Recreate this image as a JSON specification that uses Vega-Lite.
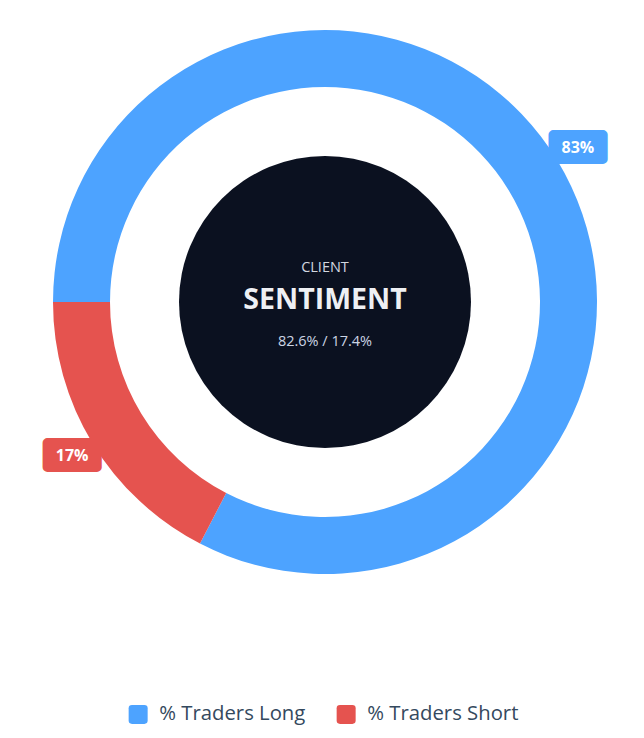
{
  "$schema": "https://vega.github.io/schema/vega-lite/v6.json",
  "width": 638,
  "height": 604,
  "autosize": "none",
  "padding": {"left": 6, "right": 0, "top": 0, "bottom": 134},
  "background": "white",
  "config": {
    "view": {"stroke": null},
    "text": {"font": "Open Sans"}
  },
  "layer": [
    {
      "data": {"values": [{"part": "center"}]},
      "mark": {"type": "arc", "theta": 0, "theta2": 6.2832, "radius": 146, "radius2": 0, "fill": "#0b1120"}
    },
    {
      "data": {"values": [
        {"side": "% Traders Long", "value": 82.6, "label": "83%", "ord": 1},
        {"side": "% Traders Short", "value": 17.4, "label": "17%", "ord": 2}
      ]},
      "encoding": {
        "theta": {"field": "value", "type": "quantitative", "stack": true, "scale": {"range": [4.71238898, 10.99557429]}},
        "order": {"field": "ord", "type": "quantitative"}
      },
      "layer": [
        {
          "mark": {"type": "arc", "radius": 272, "radius2": 215},
          "encoding": {
            "color": {"field": "side", "type": "nominal",
              "scale": {"domain": ["% Traders Long", "% Traders Short"], "range": ["#4da3ff", "#e5534f"]},
              "legend": {
                "title": null,
                "orient": "none",
                "legendX": 122,
                "legendY": 704,
                "direction": "horizontal",
                "symbolType": "M -0.65 -1 H 0.65 Q 1 -1 1 -0.65 V 0.65 Q 1 1 0.65 1 H -0.65 Q -1 1 -1 0.65 V -0.65 Q -1 -1 -0.65 -1 Z",
                "symbolSize": 361,
                "symbolStrokeWidth": 0,
                "labelFont": "Open Sans",
                "labelFontSize": 20.3,
                "labelColor": "#34495e",
                "labelOffset": 11,
                "columnPadding": 30,
                "labelLimit": 300
              }}
          }
        },
        {
          "mark": {"type": "text", "text": "████", "font": "DejaVu Sans Mono", "radius": 296, "fontSize": 20.3, "strokeWidth": 10, "strokeJoin": "round", "align": "center", "baseline": "middle"},
          "encoding": {
            "fill": {"field": "side", "type": "nominal", "legend": null,
              "scale": {"domain": ["% Traders Long", "% Traders Short"], "range": ["#4da3ff", "#e5534f"]}},
            "stroke": {"field": "side", "type": "nominal", "legend": null,
              "scale": {"domain": ["% Traders Long", "% Traders Short"], "range": ["#4da3ff", "#e5534f"]}}
          }
        },
        {
          "mark": {"type": "text", "radius": 296, "fontSize": 16, "fontWeight": "bold", "fill": "white", "align": "center", "baseline": "middle"},
          "encoding": {"text": {"field": "label"}}
        }
      ]
    },
    {
      "data": {"values": [
        {"t": "CLIENT"},
        {"t": "SENTIMENT"},
        {"t": "82.6% / 17.4%"}
      ]},
      "layer": [
        {"transform": [{"filter": "datum.t == 'CLIENT'"}], "mark": {"type": "text", "dy": -34, "fontSize": 14.5, "fill": "#d3d8e0", "align": "center", "baseline": "middle"}, "encoding": {"text": {"field": "t"}}},
        {"transform": [{"filter": "datum.t == 'SENTIMENT'"}], "mark": {"type": "text", "dy": -2, "fontSize": 28.5, "fontWeight": "bold", "fill": "#eef0f4", "align": "center", "baseline": "middle"}, "encoding": {"text": {"field": "t"}}},
        {"transform": [{"filter": "datum.t == '82.6% / 17.4%'"}], "mark": {"type": "text", "dy": 40, "fontSize": 14.5, "fill": "#ccd5e4", "align": "center", "baseline": "middle"}, "encoding": {"text": {"field": "t"}}}
      ]
    }
  ]
}
